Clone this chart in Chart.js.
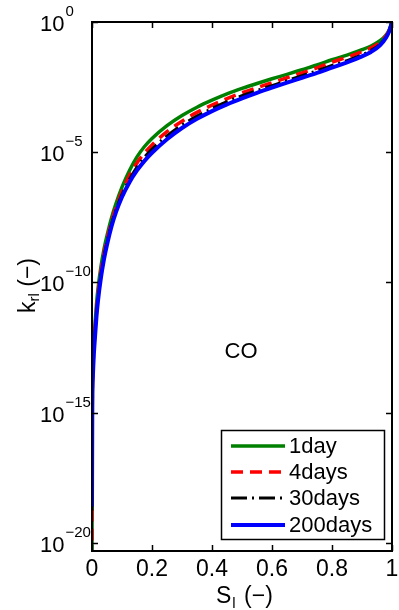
<!DOCTYPE html>
<html>
<head>
<meta charset="utf-8">
<script src="https://cdn.jsdelivr.net/npm/chart.js@4/dist/chart.umd.min.js"></script>
<style>
  html, body { margin: 0; padding: 0; background: #ffffff; }
  #wrap { width: 399px; height: 610px; }
</style>
</head>
<body>
<div id="wrap"><canvas id="c" width="399" height="610"></canvas></div>
<script>
// Liquid saturation S_l (-)
const saturation = [0, 0.001, 0.003, 0.006, 0.01, 0.015, 0.02, 0.03, 0.04, 0.05, 0.065, 0.08,
                    0.1, 0.125, 0.15, 0.175, 0.2, 0.25, 0.3, 0.35, 0.4, 0.45, 0.5, 0.55,
                    0.6, 0.65, 0.7, 0.75, 0.8, 0.85, 0.9, 0.93, 0.96, 0.98, 0.99, 1];

// Relative liquid permeability k_rl (-) after each ageing time
const kr1day = [2.51e-21, 6.31e-15, 8.91e-14, 5.01e-13, 2.51e-12, 1.51e-11, 5.75e-11, 4.17e-10, 1.91e-9, 6.31e-9, 3.02e-8, 1.07e-7,
                4.57e-7, 2.00e-6, 6.61e-6, 1.66e-5, 3.39e-5, 1.05e-4, 2.57e-4, 5.37e-4, 1.00e-3, 1.74e-3, 2.82e-3, 4.37e-3,
                6.61e-3, 9.77e-3, 1.48e-2, 2.24e-2, 3.55e-2, 5.37e-2, 8.71e-2, 0.120, 0.191, 0.316, 0.479, 1];
const kr4days = [1.26e-20, 3.39e-15, 5.01e-14, 3.02e-13, 1.51e-12, 9.12e-12, 3.55e-11, 2.69e-10, 1.29e-9, 4.37e-9, 2.14e-8, 7.59e-8,
                 3.09e-7, 1.26e-6, 3.89e-6, 9.33e-6, 1.91e-5, 6.17e-5, 1.55e-4, 3.39e-4, 6.46e-4, 1.15e-3, 1.91e-3, 3.02e-3,
                 4.68e-3, 7.24e-3, 1.12e-2, 1.74e-2, 2.88e-2, 4.47e-2, 7.24e-2, 0.102, 0.166, 0.295, 0.457, 1];
const kr30days = [1.78e-19, 2.24e-15, 3.47e-14, 2.09e-13, 1.05e-12, 6.61e-12, 2.57e-11, 2.00e-10, 9.77e-10, 3.47e-9, 1.70e-8, 6.03e-8,
                  2.40e-7, 9.12e-7, 2.69e-6, 6.46e-6, 1.32e-5, 4.27e-5, 1.12e-4, 2.45e-4, 4.79e-4, 8.71e-4, 1.48e-3, 2.34e-3,
                  3.63e-3, 5.62e-3, 8.71e-3, 1.35e-2, 2.14e-2, 3.31e-2, 5.50e-2, 8.13e-2, 0.138, 0.269, 0.437, 1];
const kr200days = [2.51e-19, 1.58e-15, 2.51e-14, 1.58e-13, 7.94e-13, 5.01e-12, 2.00e-11, 1.58e-10, 7.94e-10, 2.82e-9, 1.41e-8, 5.01e-8,
                   1.91e-7, 7.08e-7, 2.00e-6, 4.68e-6, 9.55e-6, 3.16e-5, 8.51e-5, 1.91e-4, 3.80e-4, 6.92e-4, 1.17e-3, 1.91e-3,
                   3.02e-3, 4.68e-3, 7.24e-3, 1.12e-2, 1.78e-2, 2.82e-2, 4.79e-2, 7.08e-2, 0.126, 0.251, 0.417, 1];

const seriesNames = ['1day', '4days', '30days', '200days'];
const xTickValues = [0, 0.2, 0.4, 0.6, 0.8, 1];
const xTickLabels = ['0', '0.2', '0.4', '0.6', '0.8', '1'];
const yTickExponents = [0, -5, -10, -15, -20];
const annotationText = 'CO';

const FONT = '"Liberation Sans", Arial, Helvetica, sans-serif';

function pairs(ys) { return saturation.map((s, i) => ({ x: s, y: ys[i] })); }

const styles = [
  { color: '#008000', width: 3.5, dash: [] },
  { color: '#ff0000', width: 3.5, dash: [12, 7] },
  { color: '#000000', width: 3, dash: [16, 5, 2, 5] },
  { color: '#0000ff', width: 4, dash: [] }
];
const seriesData = [kr1day, kr4days, kr30days, kr200days];

const datasets = seriesData.map((d, i) => ({
  label: seriesNames[i],
  data: pairs(d),
  borderColor: styles[i].color,
  borderWidth: styles[i].width,
  borderDash: styles[i].dash,
  pointRadius: 0,
  fill: false,
  cubicInterpolationMode: 'monotone',
  order: 3 - i
}));

// Axes box, inward ticks, tick labels, titles, legend and annotation
const decorations = {
  id: 'decorations',
  afterDatasetsDraw(chart) {
    const ctx = chart.ctx;
    const a = chart.chartArea;
    const xs = chart.scales.x, ys = chart.scales.y;
    ctx.save();
    ctx.strokeStyle = '#000';
    ctx.fillStyle = '#000';
    ctx.lineWidth = 2;
    ctx.setLineDash([]);
    ctx.strokeRect(a.left, a.top, a.right - a.left, a.bottom - a.top);

    const tl = 6;
    ctx.lineWidth = 1.5;
    ctx.beginPath();
    xTickValues.forEach(v => {
      const px = Math.round(xs.getPixelForValue(v)) + 0.5;
      ctx.moveTo(px, a.bottom); ctx.lineTo(px, a.bottom - tl);
      ctx.moveTo(px, a.top); ctx.lineTo(px, a.top + tl);
    });
    yTickExponents.forEach(e => {
      const py = Math.round(ys.getPixelForValue(Math.pow(10, e))) + 0.5;
      ctx.moveTo(a.left, py); ctx.lineTo(a.left + tl, py);
      ctx.moveTo(a.right, py); ctx.lineTo(a.right - tl, py);
    });
    ctx.stroke();

    // x tick labels
    ctx.font = '23px ' + FONT;
    ctx.textAlign = 'center';
    ctx.textBaseline = 'alphabetic';
    xTickValues.forEach((v, i) => {
      ctx.fillText(xTickLabels[i], xs.getPixelForValue(v), a.bottom + 25);
    });

    // y tick labels: 10 with superscript exponent
    yTickExponents.forEach(e => {
      const py = ys.getPixelForValue(Math.pow(10, e));
      ctx.textAlign = 'left';
      ctx.font = '22px ' + FONT;
      ctx.fillText('10', 40, py + 9);
      const w = ctx.measureText('10').width;
      ctx.font = '15px ' + FONT;
      const ex = e === 0 ? '0' : '\u2212' + String(-e);
      ctx.fillText(ex, 40 + w + 1, py - 6);
    });

    // x axis title: S_l (−)
    ctx.textAlign = 'left';
    ctx.font = '23px ' + FONT;
    let x0 = 216;
    ctx.fillText('S', x0, 603);
    x0 += ctx.measureText('S').width;
    ctx.font = '15px ' + FONT;
    ctx.fillText('l', x0 + 1, 608);
    x0 += ctx.measureText('l').width + 3;
    ctx.font = '23px ' + FONT;
    ctx.fillText(' (\u2212)', x0, 603);

    // y axis title: k_rl (−)
    ctx.save();
    ctx.translate(35, 313);
    ctx.rotate(-Math.PI / 2);
    ctx.font = '23px ' + FONT;
    let t = 0;
    ctx.fillText('k', t, 0);
    t += ctx.measureText('k').width;
    ctx.font = '15px ' + FONT;
    ctx.fillText('rl', t, 4);
    t += ctx.measureText('rl').width;
    ctx.font = '23px ' + FONT;
    ctx.fillText(' (\u2212)', t, 0);
    ctx.restore();

    // annotation
    ctx.textAlign = 'center';
    ctx.textBaseline = 'middle';
    ctx.font = '22px ' + FONT;
    ctx.fillText(annotationText, 241, 352);

    // legend
    const bx = 221, by = 430, bw = 163, bh = 109;
    ctx.fillStyle = '#fff';
    ctx.fillRect(bx, by, bw, bh);
    ctx.strokeStyle = '#000';
    ctx.lineWidth = 1.5;
    ctx.strokeRect(bx + 0.5, by + 0.5, bw, bh);
    const rows = [446, 472, 498, 525];
    seriesNames.forEach((name, i) => {
      ctx.beginPath();
      ctx.strokeStyle = styles[i].color;
      ctx.lineWidth = styles[i].width;
      ctx.setLineDash(styles[i].dash);
      ctx.moveTo(231, rows[i]); ctx.lineTo(285, rows[i]);
      ctx.stroke();
      ctx.setLineDash([]);
      ctx.fillStyle = '#000';
      ctx.textAlign = 'left';
      ctx.textBaseline = 'middle';
      ctx.font = '22px ' + FONT;
      ctx.fillText(name, 289, rows[i] + 1);
    });
    ctx.restore();
  }
};

new Chart(document.getElementById('c'), {
  type: 'line',
  data: { datasets },
  options: {
    responsive: false,
    devicePixelRatio: 1,
    animation: false,
    layout: { padding: { left: 92, right: 7, top: 22, bottom: 59 } },
    plugins: { legend: { display: false }, tooltip: { enabled: false } },
    scales: {
      x: { type: 'linear', min: 0, max: 1, display: false },
      y: { type: 'logarithmic', min: 4.93e-21, max: 1, display: false }
    }
  },
  plugins: [decorations]
});
</script>
</body>
</html>
